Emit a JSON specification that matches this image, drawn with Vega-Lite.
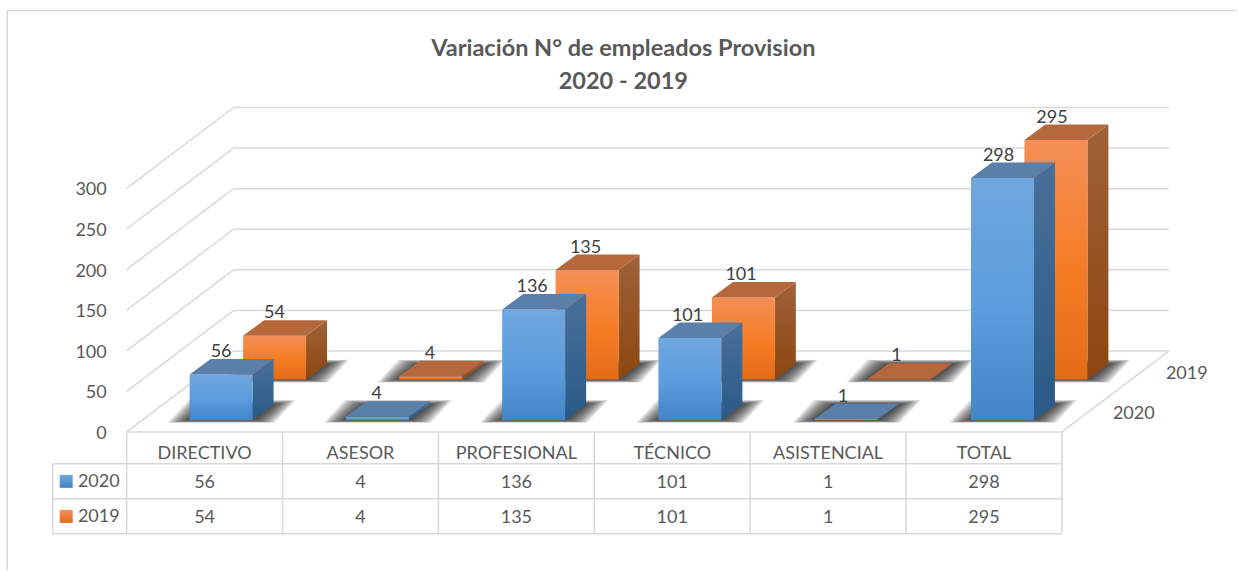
{
"$schema":"https://vega.github.io/schema/vega-lite/v6.json",
"width":1238,"height":571,"padding":0,
"autosize":{"type":"fit","contains":"padding"},
"background":"white",
"config":{"view":{"stroke":null},"text":{"font":"Lato"}},
"data":{"values":[
{"categoria":"DIRECTIVO","serie":"2020","empleados":56},
{"categoria":"ASESOR","serie":"2020","empleados":4},
{"categoria":"PROFESIONAL","serie":"2020","empleados":136},
{"categoria":"TÉCNICO","serie":"2020","empleados":101},
{"categoria":"ASISTENCIAL","serie":"2020","empleados":1},
{"categoria":"TOTAL","serie":"2020","empleados":298},
{"categoria":"DIRECTIVO","serie":"2019","empleados":54},
{"categoria":"ASESOR","serie":"2019","empleados":4},
{"categoria":"PROFESIONAL","serie":"2019","empleados":135},
{"categoria":"TÉCNICO","serie":"2019","empleados":101},
{"categoria":"ASISTENCIAL","serie":"2019","empleados":1},
{"categoria":"TOTAL","serie":"2019","empleados":295}
]},
"transform":[
{"calculate":"indexof(['DIRECTIVO','ASESOR','PROFESIONAL','TÉCNICO','ASISTENCIAL','TOTAL'],datum.categoria)","as":"i"},
{"calculate":"datum.i*1.00256+(datum.serie=='2020'?0.6058:0.9487)","as":"cx"},
{"calculate":"datum.serie=='2020'?14.75:64.5","as":"base"},
{"calculate":"datum.base+datum.empleados","as":"tope"},
{"calculate":"datum.cx-0.202","as":"x0"},
{"calculate":"datum.cx+0.202","as":"x1"}
],
"encoding":{
"x":{"field":"X","type":"quantitative","axis":null,"scale":{"domain":[-0.8127,7.1232],"nice":false,"zero":false}},
"y":{"field":"Y","type":"quantitative","axis":null,"scale":{"domain":[-170.1,532],"nice":false,"zero":false}}
},
"layer":[
{"data":{"values":[{"linea":"sup"}]},
 "transform":[{"calculate":"-0.766","as":"X"},{"calculate":"7.1232","as":"X2"},{"calculate":"519","as":"Y"}],
 "mark":{"type":"rule","color":"#d9d9d9","strokeWidth":1.5},
 "encoding":{"x2":{"field":"X2"}}},
{"data":{"values":[{"linea":"izq"}]},
 "transform":[{"calculate":"-0.766","as":"X"},{"calculate":"519","as":"Y"},{"calculate":"-170.1","as":"Y2"}],
 "mark":{"type":"rule","color":"#d9d9d9","strokeWidth":1.5},
 "encoding":{"y2":{"field":"Y2"}}},
{"data":{"values":[{"valor":0},{"valor":50},{"valor":100},{"valor":150},{"valor":200},{"valor":250},{"valor":300}]},
 "transform":[{"calculate":"0","as":"X"},{"calculate":"0.6859","as":"X2"},{"calculate":"datum.valor","as":"Y"},{"calculate":"datum.valor+99.6","as":"Y2"}],
 "mark":{"type":"rule","color":"#d9d9d9","strokeWidth":1.5},
 "encoding":{"x2":{"field":"X2"},"y2":{"field":"Y2"}}},
{"data":{"values":[{"valor":0},{"valor":50},{"valor":100},{"valor":150},{"valor":200},{"valor":250},{"valor":300}]},
 "transform":[{"calculate":"0.6859","as":"X"},{"calculate":"6.6859","as":"X2"},{"calculate":"datum.valor+99.6","as":"Y"}],
 "mark":{"type":"rule","color":"#d9d9d9","strokeWidth":1.5},
 "encoding":{"x2":{"field":"X2"}}},
{"data":{"values":[{"borde":"piso"}]},
 "transform":[{"calculate":"6","as":"X"},{"calculate":"6.6859","as":"X2"},{"calculate":"0","as":"Y"},{"calculate":"99.6","as":"Y2"}],
 "mark":{"type":"rule","color":"#d9d9d9","strokeWidth":1.5},
 "encoding":{"x2":{"field":"X2"},"y2":{"field":"Y2"}}},
{"data":{"values":[{"fila":0},{"fila":-39.3},{"fila":-82.4},{"fila":-125.4}]},
 "transform":[{"calculate":"datum.fila==0?0:-0.474","as":"X"},{"calculate":"6","as":"X2"},{"calculate":"datum.fila","as":"Y"}],
 "mark":{"type":"rule","color":"#d9d9d9","strokeWidth":1.5},
 "encoding":{"x2":{"field":"X2"}}},
{"data":{"values":[{"col":-0.474},{"col":0},{"col":1},{"col":2},{"col":3},{"col":4},{"col":5},{"col":6}]},
 "transform":[{"calculate":"datum.col","as":"X"},{"calculate":"datum.col<0?-39.3:0","as":"Y"},{"calculate":"-125.4","as":"Y2"}],
 "mark":{"type":"rule","color":"#d9d9d9","strokeWidth":1.5},
 "encoding":{"y2":{"field":"Y2"}}},
{"transform":[
 {"calculate":"[1,2,3,4,5,6,7,8,9,10,11,12]","as":"capa"},{"flatten":["capa"]},
 {"calculate":"[0,1]","as":"b"},{"flatten":["b"]},
 {"calculate":"datum.x0-datum.capa*0.0118+datum.b*0.1346","as":"X"},
 {"calculate":"datum.x1+datum.capa*0.0118+datum.b*0.1346","as":"X2"},
 {"calculate":"datum.base+datum.b*(19+datum.capa*0.45)-(1-datum.b)*datum.capa*0.3","as":"Y"},
 {"calculate":"datum.categoria+datum.serie+datum.capa","as":"clave"}],
 "mark":{"type":"area","orient":"horizontal","color":"#1f1f1f","opacity":0.11},
 "encoding":{"x2":{"field":"X2"},"detail":{"field":"clave"}}},

{"transform":[{"filter":"datum.serie=='2019'"},{"calculate":"[0,1]","as":"b"},{"flatten":["b"]},
 {"calculate":"datum.x1+datum.b*0.1346","as":"X"},{"calculate":"datum.tope+datum.b*19","as":"Y"},{"calculate":"datum.base+datum.b*19","as":"Y2"}],
 "mark":{"type":"area","orient":"vertical","fill":{"gradient":"linear","x1":0,"y1":0,"x2":0,"y2":1,"stops":[{"offset":0,"color":"#a0623a"},{"offset":1,"color":"#8c460f"}]}},
 "encoding":{"y2":{"field":"Y2"},"detail":{"field":"categoria"}}},
{"transform":[{"filter":"datum.serie=='2019'"},{"calculate":"datum.x0","as":"X"},{"calculate":"datum.x1","as":"X2"},{"calculate":"datum.tope","as":"Y"},{"calculate":"datum.base","as":"Y2"}],
 "mark":{"type":"rect","fill":{"gradient":"linear","x1":0,"y1":0,"x2":0,"y2":1,"stops":[{"offset":0,"color":"#f58f57"},{"offset":0.55,"color":"#f57c24"},{"offset":1,"color":"#e56c17"}]}},
 "encoding":{"x2":{"field":"X2"},"y2":{"field":"Y2"}}},
{"transform":[{"filter":"datum.serie=='2019'"},{"calculate":"[0,1]","as":"b"},{"flatten":["b"]},
 {"calculate":"datum.x0+datum.b*0.1346","as":"X"},{"calculate":"datum.x1+datum.b*0.1346","as":"X2"},{"calculate":"datum.tope+datum.b*19","as":"Y"}],
 "mark":{"type":"area","orient":"horizontal","color":"#b5683c","opacity":1},
 "encoding":{"x2":{"field":"X2"},"detail":{"field":"categoria"}}},

{"transform":[{"filter":"datum.serie=='2020'"},{"calculate":"[0,1]","as":"b"},{"flatten":["b"]},
 {"calculate":"datum.x1+datum.b*0.1346","as":"X"},{"calculate":"datum.tope+datum.b*19","as":"Y"},{"calculate":"datum.base+datum.b*19","as":"Y2"}],
 "mark":{"type":"area","orient":"vertical","fill":{"gradient":"linear","x1":0,"y1":0,"x2":0,"y2":1,"stops":[{"offset":0,"color":"#496f99"},{"offset":1,"color":"#2a5a88"}]}},
 "encoding":{"y2":{"field":"Y2"},"detail":{"field":"categoria"}}},
{"transform":[{"filter":"datum.serie=='2020'"},{"calculate":"datum.x0","as":"X"},{"calculate":"datum.x1","as":"X2"},{"calculate":"datum.tope","as":"Y"},{"calculate":"datum.base","as":"Y2"}],
 "mark":{"type":"rect","fill":{"gradient":"linear","x1":0,"y1":0,"x2":0,"y2":1,"stops":[{"offset":0,"color":"#70a7de"},{"offset":0.55,"color":"#5a9cde"},{"offset":1,"color":"#4285c8"}]}},
 "encoding":{"x2":{"field":"X2"},"y2":{"field":"Y2"}}},
{"transform":[{"filter":"datum.serie=='2020'"},{"calculate":"[0,1]","as":"b"},{"flatten":["b"]},
 {"calculate":"datum.x0+datum.b*0.1346","as":"X"},{"calculate":"datum.x1+datum.b*0.1346","as":"X2"},{"calculate":"datum.tope+datum.b*19","as":"Y"}],
 "mark":{"type":"area","orient":"horizontal","color":"#5a7fa8","opacity":1},
 "encoding":{"x2":{"field":"X2"},"detail":{"field":"categoria"}}},

{"transform":[{"calculate":"datum.cx-datum.i*0.005","as":"X"},{"calculate":"datum.tope+19","as":"Y"}],
 "mark":{"type":"text","fontSize":18,"color":"#404040","baseline":"middle","align":"center","dy":-7},
 "encoding":{"text":{"field":"empleados","type":"quantitative"}}},
{"data":{"values":[{"valor":0},{"valor":50},{"valor":100},{"valor":150},{"valor":200},{"valor":250},{"valor":300}]},
 "transform":[{"calculate":"-0.128","as":"X"},{"calculate":"datum.valor","as":"Y"}],
 "mark":{"type":"text","fontSize":18,"color":"#595959","baseline":"middle","align":"right","dy":2},
 "encoding":{"text":{"field":"valor","type":"quantitative"}}},
{"transform":[{"filter":"datum.serie=='2020'"},{"calculate":"datum.i+0.5","as":"X"},{"calculate":"-24.6","as":"Y"}],
 "mark":{"type":"text","fontSize":18,"color":"#595959","baseline":"middle","align":"center","dy":2},
 "encoding":{"text":{"field":"categoria","type":"nominal"}}},
{"transform":[{"calculate":"datum.i+0.5","as":"X"},{"calculate":"datum.serie=='2020'?-60.9:-104.1","as":"Y"}],
 "mark":{"type":"text","fontSize":18,"color":"#595959","baseline":"middle","align":"center","dy":1.5},
 "encoding":{"text":{"field":"empleados","type":"quantitative"}}},
{"data":{"values":[{"serie":"2020"},{"serie":"2019"}]},
 "transform":[{"calculate":"-0.0449","as":"X"},{"calculate":"datum.serie=='2020'?-60.9:-104.1","as":"Y"}],
 "mark":{"type":"text","fontSize":18,"color":"#595959","baseline":"middle","align":"right","dy":1},
 "encoding":{"text":{"field":"serie","type":"nominal"}}},
{"data":{"values":[{"serie":"2020"},{"serie":"2019"}]},
 "transform":[{"calculate":"datum.serie=='2020'?6.327:6.667","as":"X"},{"calculate":"datum.serie=='2020'?24:74","as":"Y"}],
 "mark":{"type":"text","fontSize":18,"color":"#595959","baseline":"middle","align":"left","dy":2},
 "encoding":{"text":{"field":"serie","type":"nominal"}}},
{"data":{"values":[{"serie":"2020"}]},
 "transform":[{"calculate":"-0.388","as":"X"},{"calculate":"-60.9","as":"Y"}],
 "mark":{"type":"square","size":169,"opacity":1,"fill":{"gradient":"linear","x1":0,"y1":0,"x2":0,"y2":1,"stops":[{"offset":0,"color":"#6fa7dd"},{"offset":1,"color":"#4285c8"}]}}},
{"data":{"values":[{"serie":"2019"}]},
 "transform":[{"calculate":"-0.388","as":"X"},{"calculate":"-104.1","as":"Y"}],
 "mark":{"type":"square","size":169,"opacity":1,"fill":{"gradient":"linear","x1":0,"y1":0,"x2":0,"y2":1,"stops":[{"offset":0,"color":"#f58f57"},{"offset":1,"color":"#e56c17"}]}}},
{"data":{"values":[{"titulo":"Variación N° de empleados Provision","linea":0},{"titulo":"2020 - 2019","linea":1}]},
 "transform":[{"calculate":"3.186","as":"X"},{"calculate":"datum.linea==0?473:432.4","as":"Y"}],
 "mark":{"type":"text","fontSize":23.5,"fontWeight":"bold","color":"#595959","baseline":"middle","align":"center","dy":1},
 "encoding":{"text":{"field":"titulo","type":"nominal"}}}
]
}
